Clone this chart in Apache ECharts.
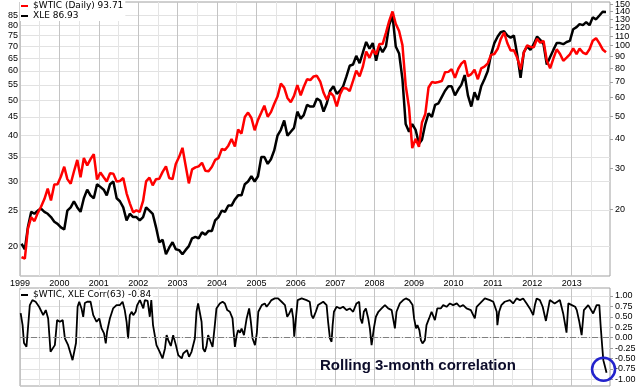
<!DOCTYPE html>
<html><head><meta charset="utf-8">
<script src="https://cdn.jsdelivr.net/npm/echarts@6/dist/echarts.min.js"></script>
<style>html,body{margin:0;padding:0;background:#fff}#c{width:640px;height:387px}</style>
</head><body><div id="c"></div>
<script>
// ---------- DATA ----------
const startYear = 1999;   // monthly price series start: Jan 1999
const xleName = 'XLE 86.93';
const wticName = '$WTIC (Daily) 93.71';
const corrName = '$WTIC, XLE Corr(63) -0.84';

const xleValues = [
  20.3,19.6,22.5,24.8,24.5,25.0,25.3,24.8,24.5,24.0,23.3,23.0,
  22.5,22.2,25.0,25.5,26.5,25.5,24.8,27.0,28.5,27.5,27.0,29.5,
  29.0,28.5,27.5,29.5,30.0,27.0,26.5,25.5,23.5,24.5,24.0,24.0,
  23.5,24.0,25.5,25.0,24.5,22.5,20.5,20.8,19.0,19.8,20.5,19.6,
  19.5,19.0,19.5,20.0,21.0,21.2,21.0,21.8,21.5,22.0,22.0,23.5,
  24.0,25.0,24.8,25.8,25.8,26.8,27.5,27.5,29.5,30.0,31.0,30.0,
  31.0,35.0,35.0,33.5,34.5,36.5,40.0,41.5,44.0,40.0,41.0,42.0,
  46.5,44.5,45.5,48.5,48.0,48.0,50.5,49.8,46.5,49.0,53.0,54.5,
  52.0,53.0,54.5,58.0,62.0,62.5,66.0,63.0,67.5,72.0,69.0,71.5,
  64.0,70.0,67.5,70.0,80.0,85.0,70.0,67.0,57.0,43.0,41.0,43.0,
  41.5,38.0,39.0,43.0,46.0,45.0,48.5,49.0,51.0,53.0,54.5,54.5,
  51.5,53.5,55.0,58.5,51.5,48.0,52.5,50.0,54.5,57.0,60.0,66.5,
  71.5,74.5,76.5,77.0,75.0,74.0,75.0,66.5,57.5,67.5,70.0,68.5,
  71.0,74.5,73.0,71.0,62.5,65.5,68.5,71.5,71.5,71.0,72.0,72.5,
  78.0,79.0,80.5,80.0,81.5,80.0,84.0,83.0,85.0,87.0,86.93
];
const wticValues = [
  12.5,12.3,16.5,18.5,17.8,19.3,20.5,22.1,24.5,21.8,25.5,25.6,
  27.6,30.4,26.9,25.7,29.0,32.5,27.4,33.1,30.8,32.7,34.4,26.8,
  28.7,27.4,26.3,28.5,28.4,26.3,26.4,27.2,23.4,21.2,19.4,19.8,
  19.5,21.7,26.3,27.3,25.3,26.9,27.0,28.9,30.5,27.2,26.9,31.2,
  33.5,36.6,31.0,25.8,29.6,30.2,30.5,31.6,29.2,29.1,30.4,32.5,
  33.1,36.2,35.8,37.4,39.9,37.1,43.8,42.1,49.6,51.8,49.1,43.5,
  48.2,51.8,55.4,49.7,52.0,56.5,60.6,68.9,66.2,59.8,57.3,61.0,
  67.9,61.4,66.6,71.9,71.3,73.9,74.4,70.3,62.9,58.7,63.1,61.1,
  55.0,62.0,65.9,65.7,64.0,70.7,78.2,74.0,81.7,94.5,88.7,96.0,
  91.8,101.8,101.6,113.5,127.4,140.0,124.1,115.5,100.6,67.8,54.4,36.5,
  40.0,37.0,47.0,51.1,66.3,69.9,69.5,70.0,70.6,77.0,77.3,79.4,
  72.9,79.7,83.8,86.2,74.0,75.6,79.0,71.9,80.0,81.4,84.1,91.4,
  92.2,97.0,106.7,113.9,102.7,95.4,95.7,88.8,79.2,93.2,100.4,98.8,
  98.5,107.1,103.0,104.9,86.5,80.0,88.1,96.5,92.2,86.2,88.9,91.8,
  97.5,92.1,97.2,93.5,92.0,96.6,105.0,107.7,102.3,96.4,93.71
];
const corrDates = [
  '1999-01-07','1999-01-25','1999-02-07','1999-03-02','1999-04-02','1999-04-26','1999-05-26','1999-06-27',
  '1999-08-04','1999-08-28','1999-09-19','1999-10-11','1999-10-29','1999-11-20','1999-12-11','2000-01-06',
  '2000-02-01','2000-02-21','2000-03-22','2000-04-14','2000-05-02','2000-05-14','2000-06-03','2000-06-18',
  '2000-07-03','2000-07-24','2000-08-09','2000-08-24','2000-09-15','2000-10-16','2000-11-10','2000-12-11',
  '2001-01-05','2001-01-26','2001-02-18','2001-03-06','2001-03-18','2001-04-13','2001-05-13','2001-06-14',
  '2001-07-14','2001-08-09','2001-08-29','2001-09-15','2001-09-29','2001-10-15','2001-11-02','2001-11-16',
  '2001-12-08','2001-12-22','2002-01-17','2002-02-17','2002-03-03','2002-03-18','2002-03-29','2002-04-18',
  '2002-05-02','2002-05-18','2002-06-19','2002-07-19','2002-08-14','2002-09-06','2002-09-21','2002-10-06',
  '2002-10-30','2002-11-21','2002-12-16','2003-01-07','2003-02-08','2003-02-22','2003-03-09','2003-03-29',
  '2003-04-17','2003-05-10','2003-06-10','2003-06-25','2003-07-10','2003-07-25','2003-08-11','2003-08-25',
  '2003-09-11','2003-09-26','2003-10-11','2003-11-03','2003-11-21','2003-12-12','2003-12-27','2004-01-27',
  '2004-02-22','2004-03-14','2004-04-05','2004-04-29','2004-05-24','2004-06-15','2004-07-01','2004-07-15',
  '2004-08-01','2004-08-16','2004-09-07','2004-10-02','2004-10-25','2004-11-09','2004-11-26','2004-12-18',
  '2005-01-04','2005-01-18','2005-02-19','2005-03-19','2005-04-05','2005-04-28','2005-05-20','2005-06-20',
  '2005-07-20','2005-08-22','2005-09-22','2005-10-13','2005-11-01','2005-11-23','2005-12-08','2005-12-17',
  '2006-01-03','2006-01-18','2006-02-24','2006-04-10','2006-05-10','2006-05-26','2006-06-10','2006-07-05',
  '2006-07-26','2006-08-12','2006-09-12','2006-10-13','2006-10-27','2006-11-13','2006-11-28','2006-12-08',
  '2006-12-20','2007-01-14','2007-02-14','2007-03-15','2007-04-16','2007-05-16','2007-06-16','2007-07-17',
  '2007-08-11','2007-08-23','2007-09-08','2007-09-23','2007-10-12','2007-11-03','2007-11-18','2007-12-04',
  '2007-12-13','2007-12-25','2008-01-13','2008-02-05','2008-03-06','2008-04-06','2008-05-06','2008-06-07',
  '2008-07-07','2008-07-22','2008-08-22','2008-09-22','2008-10-17','2008-11-17','2008-12-18','2009-01-01',
  '2009-01-19','2009-02-01','2009-02-19','2009-03-05','2009-03-20','2009-04-11','2009-04-26','2009-05-20',
  '2009-06-12','2009-07-13','2009-08-04','2009-09-05','2009-09-28','2009-10-29','2009-11-29','2009-12-29',
  '2010-02-01','2010-03-01','2010-04-01','2010-05-02','2010-06-11','2010-07-18','2010-08-04','2010-09-04',
  '2010-10-19','2010-12-05','2011-01-05','2011-02-06','2011-02-12','2011-02-28','2011-03-21','2011-04-21',
  '2011-06-08','2011-07-08','2011-08-09','2011-09-09','2011-10-09','2011-11-10','2011-12-10','2012-01-10',
  '2012-01-26','2012-02-11','2012-03-12','2012-04-07','2012-05-07','2012-06-12','2012-07-27','2012-09-13',
  '2012-10-14','2012-11-14','2012-12-01','2013-01-02','2013-02-02','2013-02-17','2013-03-11','2013-04-03',
  '2013-04-24','2013-06-03','2013-07-19','2013-08-20','2013-09-14','2013-09-27','2013-10-11','2013-10-21',
  '2013-11-06','2013-11-20'
];
const corrValues = [
  0.59,0.30,-0.13,-0.22,0.78,0.90,0.86,0.74,
  0.54,0.66,0.46,-0.34,-0.38,-0.18,0.42,0.38,
  0.42,-0.02,-0.18,-0.38,-0.54,-0.50,-0.13,0.74,
  0.86,0.70,0.50,0.83,0.86,0.86,0.54,0.38,
  0.46,0.22,0.10,-0.14,0.14,0.46,0.70,0.78,
  0.78,0.86,0.66,0.38,-0.02,0.54,0.62,0.54,
  0.62,0.78,0.90,0.70,0.90,0.86,0.88,0.50,
  0.90,0.30,-0.18,-0.34,-0.50,-0.26,0.06,-0.06,
  -0.20,0.06,-0.18,-0.42,-0.50,-0.38,-0.42,-0.30,
  -0.46,-0.34,-0.02,0.62,0.82,0.78,0.38,-0.26,
  -0.34,-0.20,0.06,-0.10,-0.22,0.30,0.70,0.82,
  0.86,0.82,0.66,0.62,0.46,-0.22,0.05,0.18,
  0.12,0.22,0.06,0.46,0.70,0.40,-0.02,-0.18,
  0.10,0.62,0.78,0.82,0.74,0.82,0.90,0.94,
  0.94,0.86,0.78,0.50,0.58,0.70,0.46,0.02,
  0.50,0.90,0.94,0.90,0.86,0.54,0.46,0.62,
  0.78,0.82,0.86,0.78,0.38,-0.02,-0.10,0.30,
  0.62,0.74,0.70,0.74,0.66,0.70,0.62,0.82,
  0.86,0.46,0.34,0.62,0.70,0.46,0.22,-0.18,
  -0.22,0.22,0.50,0.62,0.70,0.78,0.70,0.66,
  0.22,0.62,0.82,0.90,0.94,0.90,0.78,0.46,
  0.22,0.30,0.18,-0.06,-0.14,-0.06,0.30,0.46,
  0.62,0.42,0.70,0.70,0.78,0.74,0.82,0.78,
  0.82,0.74,0.78,0.70,0.66,0.46,0.74,0.82,
  0.94,0.90,0.86,0.62,0.30,0.62,0.78,0.86,
  0.90,0.82,0.94,0.90,0.94,0.82,0.70,0.54,
  0.78,0.94,0.90,0.74,0.40,0.90,0.82,0.90,
  0.58,0.12,0.82,0.78,0.74,0.66,0.40,0.06,
  0.66,0.78,0.58,0.78,0.78,0.26,-0.22,-0.54,
  -0.70,-0.84
];
const leftTicks = [20,25,30,35,40,45,50,55,60,65,70,75,80,85];
const rightTicksA = [20,40,60,80,100,120,140];
const rightTicksB = [30,50,70,90,110,130,150];
const corrTicks = [1,0.75,0.5,0.25,0,-0.25,-0.5,-0.75,-1];
const yearLabels = [1999,2000,2001,2002,2003,2004,2005,2006,2007,2008,2009,2010,2011,2012,2013];
const annotationText = 'Rolling 3-month correlation';

// ---------- BUILD ----------
const monthTs = xleValues.map((v, i) => Date.UTC(startYear, i, 15));
const xleData = xleValues.map((v, i) => [monthTs[i], v]);
const wticData = wticValues.map((v, i) => [monthTs[i], v]);
const corrData = corrDates.map((d, i) => [Date.parse(d), corrValues[i]]);
const yearTicks = yearLabels.map(y => Date.UTC(y, 0, 1));
const julyTicks = yearLabels.map(y => Date.UTC(y, 6, 1));
const xMin = Date.UTC(1999, 0, 1), xMax = Date.UTC(2013, 11, 22);

const FONT = 'Liberation Sans';
const labelStyle = {fontFamily: FONT, fontSize: 9, color: '#000'};
const BORDER = '#a0a0a0';
const WT_MIN = 10.37, WT_MAX = 153.7;

function xAx(gridIndex, ticks, color, showLabels) {
  return {
    type: 'value', gridIndex, min: xMin, max: xMax, scale: true,
    axisLine: {show: false},
    axisTick: {show: false, customValues: ticks},
    axisLabel: showLabels ? Object.assign({show: true, customValues: yearTicks, margin: 3, hideOverlap: false,
      formatter: v => String(new Date(v).getUTCFullYear())}, labelStyle) : {show: false},
    splitLine: {show: true, lineStyle: {color, width: 1}}
  };
}
function rightLog(ticks) {
  return {type: 'log', gridIndex: 0, position: 'right', min: WT_MIN, max: WT_MAX,
    axisLine: {show: false}, axisTick: {show: true, customValues: ticks, length: 3, lineStyle: {color: BORDER}},
    axisLabel: Object.assign({customValues: ticks, margin: 5, hideOverlap: false, showMaxLabel: true, showMinLabel: true}, labelStyle),
    splitLine: {show: false}};
}

const chart = echarts.init(document.getElementById('c'), null, {renderer: 'canvas', width: 640, height: 387});
chart.setOption({
  animation: false,
  backgroundColor: '#fff',
  grid: [
    {left: 20, right: 30, top: 1, height: 275, show: true, borderColor: BORDER, borderWidth: 1, backgroundColor: 'transparent'},
    {left: 20, right: 30, top: 288, height: 98, show: true, borderColor: BORDER, borderWidth: 1, backgroundColor: 'transparent'}
  ],
  xAxis: [
    xAx(0, yearTicks, '#c4c4c4', true),
    xAx(0, julyTicks, '#e4e4e4', false),
    xAx(1, yearTicks, '#c4c4c4', false),
    xAx(1, julyTicks, '#e4e4e4', false)
  ],
  yAxis: [
    {type: 'log', gridIndex: 0, position: 'left', min: 16.58, max: 92.5,
     axisLine: {show: false}, axisTick: {show: false, customValues: leftTicks},
     axisLabel: Object.assign({customValues: leftTicks, margin: 2, hideOverlap: false, showMaxLabel: true, showMinLabel: true}, labelStyle),
     splitLine: {show: true, lineStyle: {color: '#e2e2e2'}}},
    rightLog(rightTicksA),
    {type: 'value', gridIndex: 1, position: 'right', min: -1.16, max: 1.19,
     axisLine: {show: false}, axisTick: {show: true, customValues: corrTicks, length: 3, lineStyle: {color: BORDER}},
     axisLabel: Object.assign({customValues: corrTicks, margin: 5, hideOverlap: false, formatter: v => v.toFixed(2)}, labelStyle),
     splitLine: {show: true, lineStyle: {color: '#e2e2e2'}}},
    rightLog(rightTicksB)
  ],
  legend: [
    {data: [wticName, xleName], orient: 'vertical', left: 20, top: 1, itemGap: 0, itemWidth: 7, itemHeight: 2,
     icon: 'rect', padding: [0, 2, 0, 1], backgroundColor: '#fff', selectedMode: false,
     textStyle: {fontFamily: 'DejaVu Sans', fontSize: 9, color: '#000', lineHeight: 10}},
    {data: [corrName], orient: 'vertical', left: 20, top: 290, itemGap: 0, itemWidth: 7, itemHeight: 2,
     icon: 'rect', padding: [0, 2, 0, 1], backgroundColor: '#fff', selectedMode: false,
     textStyle: {fontFamily: 'DejaVu Sans', fontSize: 9, color: '#000', lineHeight: 10}}
  ],
  series: [
    {name: xleName, type: 'line', xAxisIndex: 0, yAxisIndex: 0, data: xleData, showSymbol: false,
     lineStyle: {color: '#000', width: 2.5}, itemStyle: {color: '#000'}, z: 3},
    {name: wticName, type: 'line', xAxisIndex: 0, yAxisIndex: 1, data: wticData, showSymbol: false,
     lineStyle: {color: '#ff0000', width: 2.5}, itemStyle: {color: '#ff0000'}, z: 4},
    {name: corrName, type: 'line', xAxisIndex: 2, yAxisIndex: 2, data: corrData, showSymbol: false,
     lineStyle: {color: '#000', width: 1.8}, itemStyle: {color: '#000'}, z: 4,
     markLine: {silent: true, symbol: 'none', label: {show: false},
       lineStyle: {color: '#808080', width: 1, type: [6, 2, 1, 2]},
       data: [{yAxis: 0}]}}
  ]
});

// annotation: circle around the last correlation reading, plus caption
const lastPt = corrData[corrData.length - 1];
const p = chart.convertToPixel({xAxisIndex: 2, yAxisIndex: 2}, lastPt);
chart.setOption({
  graphic: [
    {type: 'text', left: 320, top: 358, z: 100,
     style: {text: annotationText, font: 'bold 15px "Liberation Sans", Arial, sans-serif', fill: '#0d0d2b'}},
    {type: 'circle', z: 100, shape: {cx: p[0] - 3, cy: p[1] - 3.5, r: 11.5},
     style: {fill: 'none', stroke: '#2323cc', lineWidth: 2.5}}
  ]
});
</script>
</body></html>
